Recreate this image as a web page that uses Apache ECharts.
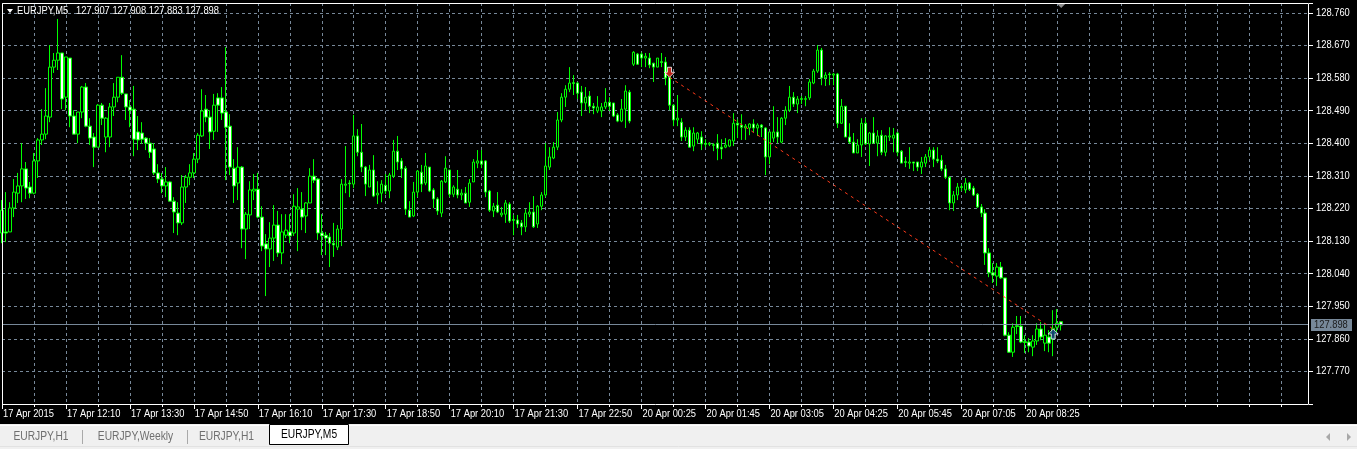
<!DOCTYPE html>
<html><head><meta charset="utf-8">
<script src="https://cdn.jsdelivr.net/npm/echarts@6.0.0/dist/echarts.min.js"></script>
<style>html,body{margin:0;padding:0;background:#000;width:1357px;height:449px;overflow:hidden}#c{width:1357px;height:449px}</style>
</head><body><div id="c"></div><script>
const symbolName = 'EURJPY,M5';
const tickLabels = ["17 Apr 2015","17 Apr 12:10","17 Apr 13:30","17 Apr 14:50","17 Apr 16:10","17 Apr 17:30","17 Apr 18:50","17 Apr 20:10","17 Apr 21:30","17 Apr 22:50","20 Apr 00:25","20 Apr 01:45","20 Apr 03:05","20 Apr 04:25","20 Apr 05:45","20 Apr 07:05","20 Apr 08:25"];
const priceTicks = [128.760,128.670,128.580,128.490,128.400,128.310,128.220,128.130,128.040,127.950,127.860,127.770];
const tabNames = ['EURJPY,H1','EURJPY,Weekly','EURJPY,H1','EURJPY,M5'];
const priceMin = 127.68, priceMax = 128.787, priceStep = 0.09;
const totalSlots = 328;
const labelEvery = 16;
const tradeBars = [167, 263];
const tradePrices = [128.582, 127.887];

const openP = [128.152,128.155,128.155,128.221,128.262,128.282,128.329,128.279,128.262,128.351,
128.409,128.425,128.472,128.610,128.629,128.649,128.527,128.635,128.475,128.425,
128.486,128.555,128.447,128.417,128.389,128.505,128.417,128.417,128.500,128.527,
128.582,128.536,128.500,128.494,128.431,128.428,128.414,128.400,128.384,128.318,
128.301,128.282,128.293,128.240,128.207,128.180,128.279,128.306,128.318,128.356,
128.420,128.494,128.472,128.433,128.525,128.525,128.486,128.447,128.331,128.290,
128.334,128.163,128.202,128.268,128.273,128.196,128.122,128.108,128.138,128.174,
128.097,128.146,128.155,128.152,128.218,128.218,128.199,128.235,128.309,128.301,
128.152,128.146,128.141,128.124,128.113,128.163,128.284,128.290,128.287,128.420,
128.375,128.334,128.279,128.326,128.257,128.262,128.284,128.268,128.309,128.378,
128.351,128.331,128.215,128.199,128.265,128.320,128.290,128.334,128.271,128.246,
128.207,128.293,128.326,128.259,128.273,128.257,128.262,128.237,128.293,128.345,
128.351,128.351,128.268,128.213,128.229,128.202,128.204,128.232,128.189,128.188,
128.180,128.169,128.204,128.210,128.177,128.226,128.257,128.334,128.359,128.389,
128.464,128.527,128.549,128.567,128.566,128.541,128.511,128.530,128.502,128.489,
128.489,128.500,128.513,128.511,128.478,128.461,128.494,128.541,128.618,128.646,
128.646,128.635,128.635,128.621,128.610,128.625,128.624,128.582,128.505,128.464,
128.458,128.417,128.436,128.392,128.411,128.417,128.399,128.397,128.396,128.400,
128.389,128.389,128.392,128.406,128.455,128.450,128.442,128.442,128.453,128.442,
128.450,128.442,128.362,128.414,128.431,128.403,128.469,128.491,128.527,128.508,
128.523,128.521,128.525,128.566,128.599,128.657,128.580,128.591,128.588,128.591,
128.455,128.502,128.417,128.403,128.373,128.395,128.455,128.398,128.428,128.400,
128.422,128.375,128.417,128.414,128.428,128.378,128.349,128.345,128.348,128.348,
128.334,128.345,128.362,128.381,128.356,128.353,128.329,128.306,128.235,128.257,
128.280,128.271,128.290,128.276,128.259,128.224,128.207,128.097,128.042,128.033,
128.058,128.028,127.870,127.823,127.896,127.895,127.852,127.851,127.837,127.854,
127.887,127.848,127.865,127.862,127.892,127.907];
const closeP = [128.215,128.152,128.221,128.265,128.282,128.329,128.276,128.262,128.351,128.409,
128.425,128.475,128.610,128.629,128.649,128.522,128.638,128.475,128.425,128.486,
128.555,128.447,128.414,128.389,128.505,128.469,128.469,128.500,128.527,128.582,
128.538,128.500,128.491,128.411,128.409,128.411,128.400,128.375,128.318,128.301,
128.282,128.293,128.240,128.210,128.180,128.279,128.306,128.318,128.356,128.422,
128.489,128.472,128.431,128.505,128.505,128.483,128.444,128.334,128.282,128.334,
128.163,128.204,128.271,128.273,128.196,128.116,128.108,128.138,128.174,128.097,
128.155,128.160,128.144,128.226,128.224,128.196,128.235,128.309,128.298,128.152,
128.144,128.138,128.124,128.119,128.163,128.287,128.287,128.288,128.420,128.375,
128.334,128.287,128.326,128.254,128.262,128.287,128.268,128.312,128.378,128.348,
128.329,128.218,128.196,128.265,128.323,128.287,128.337,128.268,128.246,128.213,
128.295,128.331,128.259,128.279,128.257,128.262,128.235,128.290,128.348,128.351,
128.342,128.265,128.215,128.226,128.210,128.207,128.235,128.185,128.187,128.177,
128.169,128.207,128.210,128.169,128.226,128.257,128.337,128.362,128.389,128.464,
128.527,128.549,128.566,128.565,128.538,128.511,128.527,128.502,128.497,128.500,
128.500,128.513,128.502,128.475,128.461,128.494,128.544,128.461,128.651,128.618,
128.635,128.640,128.616,128.610,128.635,128.623,128.580,128.505,128.464,128.469,
128.417,128.436,128.389,128.428,128.428,128.398,128.397,128.400,128.394,128.386,
128.384,128.395,128.409,128.455,128.450,128.444,128.447,128.453,128.442,128.450,
128.444,128.362,128.431,128.431,128.417,128.469,128.491,128.527,128.508,128.522,
128.521,128.523,128.569,128.599,128.657,128.580,128.588,128.589,128.591,128.455,
128.502,128.417,128.403,128.373,128.395,128.455,128.398,128.428,128.400,128.420,
128.375,128.420,128.420,128.422,128.375,128.345,128.347,128.348,128.345,128.334,
128.348,128.362,128.381,128.356,128.351,128.329,128.306,128.235,128.257,128.279,
128.278,128.290,128.273,128.257,128.224,128.207,128.097,128.042,128.036,128.058,
128.028,127.870,127.823,127.892,127.894,127.851,127.850,127.840,127.854,127.887,
127.865,127.870,127.848,127.889,127.903,127.898];
const lowP = [128.124,128.127,128.155,128.196,128.235,128.237,128.246,128.248,128.259,128.304,
128.395,128.411,128.458,128.594,128.602,128.494,128.491,128.444,128.425,128.400,
128.469,128.444,128.395,128.334,128.389,128.450,128.375,128.389,128.475,128.513,
128.533,128.464,128.444,128.364,128.381,128.398,128.381,128.359,128.312,128.290,
128.262,128.251,128.240,128.152,128.146,128.174,128.235,128.284,128.304,128.345,
128.417,128.458,128.384,128.409,128.431,128.464,128.298,128.312,128.235,128.243,
128.110,128.080,128.163,128.243,128.193,128.102,127.978,128.058,128.075,128.086,
128.066,128.138,128.124,128.144,128.102,128.160,128.152,128.235,128.290,128.133,
128.091,128.091,128.058,128.086,128.105,128.116,128.262,128.251,128.276,128.364,
128.320,128.254,128.279,128.251,128.232,128.237,128.259,128.248,128.304,128.326,
128.304,128.202,128.196,128.196,128.251,128.265,128.284,128.265,128.221,128.202,
128.196,128.290,128.251,128.251,128.248,128.243,128.235,128.224,128.293,128.331,
128.331,128.251,128.210,128.196,128.207,128.196,128.180,128.180,128.146,128.166,
128.146,128.155,128.196,128.166,128.166,128.215,128.251,128.326,128.356,128.381,
128.458,128.500,128.541,128.533,128.522,128.475,128.491,128.483,128.480,128.483,
128.472,128.494,128.489,128.472,128.458,128.458,128.442,128.455,128.613,128.616,
128.610,128.610,128.607,128.569,128.610,128.610,128.560,128.491,128.447,128.447,
128.406,128.406,128.389,128.378,128.398,128.381,128.389,128.392,128.378,128.353,
128.356,128.386,128.389,128.392,128.414,128.409,128.409,128.422,128.431,128.420,
128.417,128.312,128.342,128.403,128.400,128.400,128.450,128.486,128.500,128.483,
128.508,128.502,128.519,128.563,128.594,128.560,128.558,128.560,128.560,128.442,
128.453,128.417,128.398,128.373,128.373,128.362,128.395,128.337,128.400,128.364,
128.367,128.364,128.406,128.375,128.364,128.345,128.334,128.329,128.323,128.323,
128.315,128.334,128.353,128.334,128.345,128.323,128.301,128.215,128.213,128.243,
128.268,128.262,128.268,128.254,128.221,128.196,128.064,128.030,128.014,128.006,
128.025,127.867,127.821,127.810,127.873,127.848,127.821,127.823,127.812,127.843,
127.856,127.826,127.823,127.812,127.878,127.883];
const highP = [128.243,128.265,128.237,128.301,128.318,128.400,128.348,128.293,128.373,128.414,
128.494,128.552,128.671,128.649,128.743,128.649,128.638,128.635,128.491,128.486,
128.558,128.566,128.469,128.428,128.508,128.511,128.472,128.511,128.566,128.582,
128.643,128.536,128.519,128.558,128.475,128.458,128.417,128.414,128.400,128.342,
128.318,128.334,128.295,128.251,128.237,128.312,128.312,128.342,128.373,128.428,
128.549,128.533,128.491,128.536,128.538,128.555,128.665,128.480,128.356,128.389,
128.337,128.210,128.295,128.315,128.318,128.226,128.149,128.182,128.229,128.213,
128.204,128.204,128.204,128.259,128.276,128.265,128.237,128.331,128.356,128.304,
128.204,128.155,128.152,128.180,128.174,128.301,128.392,128.298,128.478,128.439,
128.453,128.337,128.340,128.367,128.295,128.298,128.315,128.318,128.409,128.420,
128.359,128.337,128.240,128.293,128.326,128.340,128.373,128.334,128.276,128.251,
128.298,128.364,128.326,128.284,128.326,128.273,128.279,128.301,128.356,128.381,
128.381,128.353,128.271,128.235,128.265,128.224,128.243,128.237,128.202,128.202,
128.188,128.218,128.237,128.254,128.229,128.265,128.400,128.389,128.403,128.486,
128.538,128.560,128.610,128.588,128.569,128.558,128.555,128.544,128.511,128.530,
128.511,128.552,128.527,128.511,128.483,128.522,128.560,128.547,128.654,128.649,
128.651,128.649,128.649,128.621,128.635,128.649,128.638,128.582,128.508,128.533,
128.469,128.444,128.444,128.444,128.431,128.433,128.411,128.403,128.400,128.425,
128.411,128.414,128.411,128.483,128.466,128.480,128.453,128.455,128.466,128.455,
128.453,128.444,128.431,128.502,128.472,128.472,128.502,128.558,128.541,128.530,
128.530,128.530,128.577,128.605,128.671,128.663,128.596,128.596,128.594,128.594,
128.522,128.502,128.455,128.428,128.411,128.469,128.469,128.431,128.472,128.436,
128.436,128.422,128.444,128.442,128.431,128.381,128.362,128.389,128.348,128.348,
128.362,128.370,128.389,128.389,128.389,128.367,128.340,128.309,128.268,128.290,
128.287,128.304,128.293,128.282,128.262,128.232,128.218,128.110,128.069,128.069,
128.072,128.028,127.878,127.903,127.923,127.923,127.870,127.862,127.870,127.903,
127.906,127.898,127.884,127.939,127.942,127.908];

const FONT = '"Liberation Sans",Arial,sans-serif';
const SX = 0.85;
const ohlc = openP.map((o, i) => [o, closeP[i], lowP[i], highP[i]]);
const slots = Array.from({length: totalSlots}, (_, i) => String(i));
const last = openP.length - 1;

const chart = echarts.init(document.getElementById('c'), null, {renderer: 'canvas'});

const option = {
  animation: false,
  backgroundColor: '#000000',
  grid: {left: 2, top: 3, width: 1307, height: 401, show: true, backgroundColor: '#000', borderWidth: 0},
  xAxis: [{
    type: 'category', data: slots, boundaryGap: false, position: 'bottom',
    axisLine: {show: false},
    axisTick: {show: true, interval: (i) => i % 8 === 0, length: 3, lineStyle: {color: '#ffffff'}},
    axisLabel: {show: false},
    splitLine: {show: true, interval: (i) => i % 8 === 0, lineStyle: {color: '#778899', type: [3, 3], width: 1}}
  }, {
    type: 'category', data: slots, boundaryGap: false, position: 'bottom', gridIndex: 0,
    axisLine: {show: false},
    axisTick: {show: true, interval: (i) => i % labelEvery === 0 && i / labelEvery < tickLabels.length, length: 5, lineStyle: {color: '#ffffff'}},
    axisLabel: {show: false}, splitLine: {show: false}
  }],
  yAxis: {
    type: 'value', position: 'right', min: priceMin, max: priceMax, interval: priceStep, scale: true,
    axisLine: {show: false},
    axisTick: {show: true, length: 4, lineStyle: {color: '#ffffff'}},
    axisLabel: {show: false},
    splitLine: {show: true, lineStyle: {color: '#778899', type: [3, 3], width: 1}}
  },
  series: [{
    type: 'candlestick', data: ohlc, barWidth: 3, xAxisIndex: 0,
    itemStyle: {color: '#000000', color0: '#ffffff', borderColor: '#00ff00', borderColor0: '#00ff00', borderWidth: 1},
    markLine: {
      silent: true, symbol: ['none', 'none'], animation: false,
      data: [{yAxis: closeP[last]}],
      lineStyle: {color: '#778899', type: 'solid', width: 1},
      label: {show: false}
    }
  }, {
    type: 'line', data: tradeBars.map((b, i) => [b, tradePrices[i]]), symbol: 'none',
    lineStyle: {color: '#ff3a1a', type: [3, 4], width: 1}, z: 5
  }, {
    type: 'scatter', data: [[tradeBars[0], tradePrices[0]]], z: 6,
    symbol: 'path://M3,0 L7,0 L7,5 L10,5 L5,10 L0,5 L3,5 Z', symbolSize: [10, 10], symbolOffset: [0, -5],
    itemStyle: {color: '#e8261c', borderColor: '#ffffff', borderWidth: 1}
  }, {
    type: 'scatter', data: [[tradeBars[1], tradePrices[1]]], z: 6,
    symbol: 'path://M5,0 L10,5 L7,5 L7,10 L3,10 L3,5 L0,5 Z', symbolSize: [10, 10], symbolOffset: [0, 5],
    itemStyle: {color: '#1f4f8c', borderColor: '#ffffff', borderWidth: 1}
  }]
};
chart.setOption(option);

// Text and decorations placed via the library's own coordinate conversion
const g = [];
const rightEdge = chart.convertToPixel({xAxisIndex: 0}, totalSlots - 1);
const gridBottom = chart.convertToPixel({yAxisIndex: 0}, priceMin);
const gridTop = chart.convertToPixel({yAxisIndex: 0}, priceMax);
const leftEdge = chart.convertToPixel({xAxisIndex: 0}, 0);
g.push({type: 'rect', shape: {x: leftEdge + 0.5, y: gridTop + 0.5, width: rightEdge - leftEdge - 1, height: gridBottom - gridTop}, style: {fill: null, stroke: '#ffffff', lineWidth: 1}, z: 50, silent: true});

priceTicks.forEach(v => {
  const y = chart.convertToPixel({yAxisIndex: 0}, v);
  g.push({type: 'text', x: rightEdge + 7, y: y, scaleX: SX, z: 50,
    style: {text: v.toFixed(3), fill: '#ffffff', fontSize: 11, fontFamily: FONT, verticalAlign: 'middle'}});
});
tickLabels.forEach((t, k) => {
  const x = chart.convertToPixel({xAxisIndex: 0}, k * labelEvery);
  g.push({type: 'text', x: x + 1, y: gridBottom + 10, scaleX: SX, z: 50,
    style: {text: t, fill: '#ffffff', fontSize: 11, fontFamily: FONT, verticalAlign: 'middle'}});
});
const yBid = chart.convertToPixel({yAxisIndex: 0}, closeP[last]);
g.push({type: 'rect', shape: {x: rightEdge + 2, y: Math.round(yBid) - 6, width: 41, height: 12}, style: {fill: '#778899'}, z: 51});
g.push({type: 'text', x: rightEdge + 5, y: yBid, scaleX: SX, z: 52,
  style: {text: closeP[last].toFixed(3), fill: '#1a1a1a', fontSize: 11, fontFamily: FONT, verticalAlign: 'middle'}});

// header
g.push({type: 'polygon', shape: {points: [[7, 9], [13, 9], [10, 13]]}, style: {fill: '#ffffff'}, z: 50});
g.push({type: 'text', x: 17, y: 11, z: 50, scaleX: SX, style: {text: symbolName, fill: '#ffffff', fontSize: 11, fontFamily: FONT, verticalAlign: 'middle'}});
g.push({type: 'text', x: 76, y: 11, z: 50, scaleX: SX, style: {text: [openP[last], highP[last], lowP[last], closeP[last]].map(v => v.toFixed(3)).join(' '),
  fill: '#ffffff', fontSize: 11, fontFamily: FONT, verticalAlign: 'middle'}});
const xLast = chart.convertToPixel({xAxisIndex: 0}, last);
g.push({type: 'polygon', shape: {points: [[xLast - 4, gridTop + 1], [xLast + 4, gridTop + 1], [xLast, gridTop + 5]]}, style: {fill: '#8a8a8a'}, z: 50});

// tab bar
g.push({type:'rect', shape:{x:0, y:424, width:1357, height:25}, style:{fill:'#f0f0f0'}, z:1});
g.push({type:'line', shape:{x1:0, y1:425.5, x2:1357, y2:425.5}, style:{stroke:'#ffffff', lineWidth:1}, z:2});
g.push({type:'line', shape:{x1:0, y1:446.5, x2:1357, y2:446.5}, style:{stroke:'#e2e2e2', lineWidth:1}, z:2});
const tabCenters = [41, 135.5, 226.5, 309];
tabNames.forEach((t, i) => {
  const active = i === tabNames.length - 1;
  if (active) {
    g.push({type:'rect', shape:{x:269.5, y:424.5, width:79, height:20}, style:{fill:'#ffffff', stroke:'#000', lineWidth:1}, z:3});
  }
  g.push({type:'text', x: tabCenters[i], y: active ? 435 : 437, z:4, scaleX: 0.82,
    style:{text:t, fill: active ? '#000000' : '#6f6f6f', fontSize:12.5, fontFamily:FONT, align:'center', verticalAlign:'middle'}});
});
[82.5, 187.5].forEach(x => g.push({type:'line', shape:{x1:x, y1:430, x2:x, y2:444}, style:{stroke:'#a9a9a9', lineWidth:1}, z:3}));
g.push({type:'polygon', shape:{points:[[1330,433],[1330,441],[1326,437]]}, style:{fill:'#a8a8a8'}, z:3});
g.push({type:'polygon', shape:{points:[[1347,433],[1347,441],[1351,437]]}, style:{fill:'#a8a8a8'}, z:3});

chart.setOption({graphic: g});
</script></body></html>
